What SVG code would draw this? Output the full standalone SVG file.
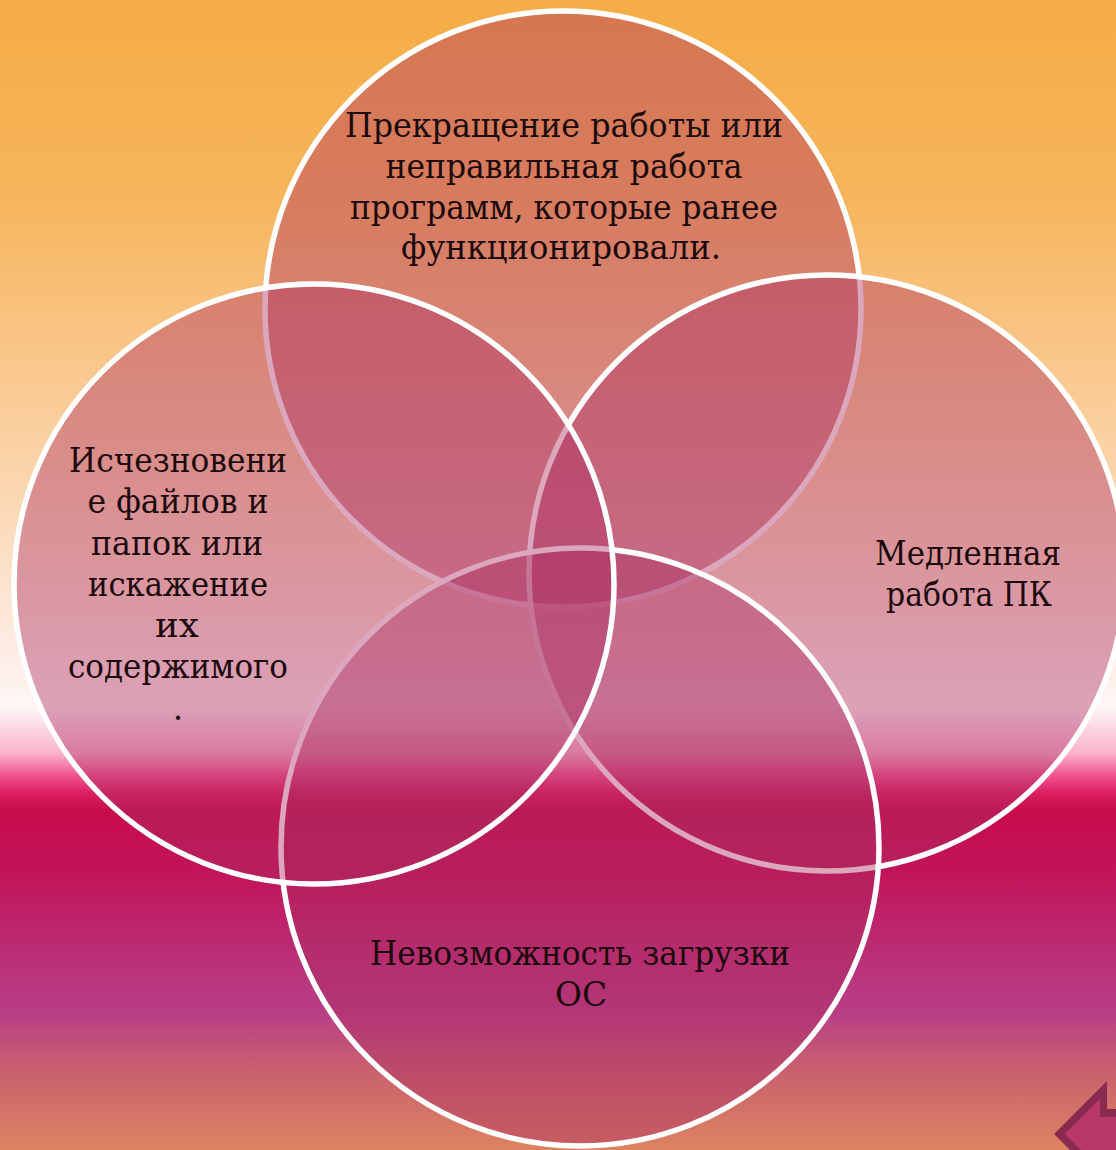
<svg xmlns="http://www.w3.org/2000/svg" width="1116" height="1150" viewBox="0 0 1116 1150">
  <defs>
    <linearGradient id="bg" x1="0" y1="0" x2="0" y2="1150" gradientUnits="userSpaceOnUse">
      <stop offset="0" stop-color="#F5AC45"/>
      <stop offset="0.17" stop-color="#F6B55B"/>
      <stop offset="0.3" stop-color="#F9C587"/>
      <stop offset="0.44" stop-color="#FBD9B5"/>
      <stop offset="0.57" stop-color="#FDEDE6"/>
      <stop offset="0.615" stop-color="#FFF6F6"/>
      <stop offset="0.655" stop-color="#FBB2CC"/>
      <stop offset="0.675" stop-color="#F2508E"/>
      <stop offset="0.69" stop-color="#DA1E5E"/>
      <stop offset="0.705" stop-color="#C70C4C"/>
      <stop offset="0.76" stop-color="#C2145A"/>
      <stop offset="0.83" stop-color="#BA2E75"/>
      <stop offset="0.88" stop-color="#B83E85"/>
      <stop offset="0.93" stop-color="#C9606F"/>
      <stop offset="1" stop-color="#DC8460"/>
    </linearGradient>
    <style>
      .c { fill: rgb(172,45,98); fill-opacity: 0.42; stroke: #FFFFFF; stroke-width: 5.5; }
      .t { font-family: "DejaVu Serif", "Liberation Serif", serif; font-size: 33px; fill: #1C0A0E; text-anchor: middle; }
      .arrow-out { fill: #8A2A4E; }
      .arrow-in { fill: #B93868; }
    </style>
  </defs>

  <rect x="0" y="0" width="1116" height="1150" fill="url(#bg)"/>

  <g id="node-top">
    <circle class="c" cx="563" cy="309" r="298"/>
    <text class="t" x="564" y="137" textLength="438" lengthAdjust="spacingAndGlyphs">Прекращение работы или</text>
    <text class="t" x="564" y="178" textLength="357" lengthAdjust="spacingAndGlyphs">неправильная работа</text>
    <text class="t" x="564" y="219" textLength="428" lengthAdjust="spacingAndGlyphs">программ, которые ранее</text>
    <text class="t" x="561" y="259" textLength="320" lengthAdjust="spacingAndGlyphs">функционировали.</text>
  </g>

  <g id="node-right">
    <circle class="c" cx="827" cy="573" r="298"/>
    <text class="t" x="968" y="565" textLength="186" lengthAdjust="spacingAndGlyphs">Медленная</text>
    <text class="t" x="969" y="606" textLength="166" lengthAdjust="spacingAndGlyphs">работа ПК</text>
  </g>

  <g id="node-bottom">
    <circle class="c" cx="580" cy="847" r="299"/>
    <text class="t" x="580" y="965" textLength="420" lengthAdjust="spacingAndGlyphs">Невозможность загрузки</text>
    <text class="t" x="581" y="1006" textLength="52" lengthAdjust="spacingAndGlyphs">ОС</text>
  </g>

  <g id="node-left">
    <circle class="c" cx="314" cy="584" r="300"/>
    <text class="t" x="178" y="472" textLength="218" lengthAdjust="spacingAndGlyphs">Исчезновени</text>
    <text class="t" x="178" y="513" textLength="181" lengthAdjust="spacingAndGlyphs">е файлов и</text>
    <text class="t" x="177" y="555" textLength="172" lengthAdjust="spacingAndGlyphs">папок или</text>
    <text class="t" x="178" y="596" textLength="180" lengthAdjust="spacingAndGlyphs">искажение</text>
    <text class="t" x="177" y="637" textLength="44" lengthAdjust="spacingAndGlyphs">их</text>
    <text class="t" x="178" y="678" textLength="220" lengthAdjust="spacingAndGlyphs">содержимого</text>
    <text class="t" x="178" y="720">.</text>
  </g>

  <g id="nav-arrow">
    <polygon class="arrow-out" points="1054,1134 1107,1081 1107,1109 1120,1109 1120,1200 1107,1200 1107,1187"/>
    <polygon class="arrow-in" points="1065,1134 1100,1099 1100,1117 1120,1117 1120,1200 1100,1200 1100,1169"/>
  </g>
</svg>
